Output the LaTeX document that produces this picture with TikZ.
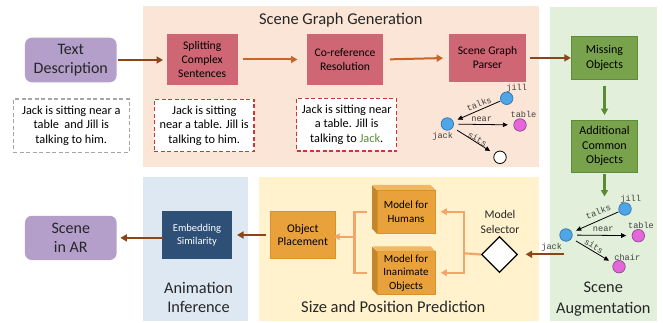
\documentclass[tikz,border=0pt]{standalone}
\usepackage{fontspec}
\setmainfont{Carlito}
\newfontfamily\gmono{Liberation Mono}
\usetikzlibrary{shapes.geometric,arrows.meta}
\definecolor{peachbg}{HTML}{FBE5D6}
\definecolor{greenbg}{HTML}{E2EFDA}
\definecolor{bluebg}{HTML}{DEE8F3}
\definecolor{yellowbg}{HTML}{FFF2CC}
\definecolor{purp}{HTML}{B49FCB}
\definecolor{redbox}{HTML}{CE6673}
\definecolor{reddash}{HTML}{D03535}
\definecolor{graydash}{HTML}{A6A6A6}
\definecolor{greenbox}{HTML}{78A24C}
\definecolor{greenedge}{HTML}{5E8C3A}
\definecolor{greenarr}{HTML}{5B8A35}
\definecolor{orangebox}{HTML}{E9A23B}
\definecolor{orangeleft}{HTML}{C4862C}
\definecolor{orangetop}{HTML}{F0B860}
\definecolor{orangeedge}{HTML}{D9912E}
\definecolor{oline}{HTML}{F4A46A}
\definecolor{darkblue}{HTML}{2E5077}
\definecolor{brownarr}{HTML}{8B4519}
\definecolor{orbrown}{HTML}{C8662A}
\definecolor{nodeblue}{HTML}{4FA6E6}
\definecolor{nodeblueedge}{HTML}{2F75B5}
\definecolor{nodemag}{HTML}{E466D8}
\definecolor{nodemagedge}{HTML}{8A4A90}
\definecolor{jackgreen}{HTML}{5A8C3C}
\definecolor{titlegray}{HTML}{262626}
\newcommand\fsz[2]{\fontsize{#1}{#2}\selectfont}
\begin{document}
\begin{tikzpicture}[x=1pt,y=-1pt,
  every node/.style={inner sep=0pt, align=center},
  purpbox/.style={fill=purp, rounded corners=7pt, text=titlegray, font=\fsz{16}{19.5}},
  exbox/.style={fill=white, line width=1.4pt, dash pattern=on 4pt off 2.5pt, font=\fsz{12.3}{14.6}},
  redstep/.style={fill=redbox, font=\fsz{11.6}{14.2}},
  greenstep/.style={fill=greenbox, draw=greenedge, line width=0.8pt, font=\fsz{12}{14.5}},
  cubefront/.style={fill=orangebox, draw=orangeedge, line width=0.5pt, font=\fsz{11}{13.6}},
  titletext/.style={text=titlegray, font=\fsz{16.5}{20}},
  brownarrow/.style={draw=brownarr, line width=2pt, -{Triangle[length=6.5pt,width=7pt]}},
  orarrow/.style={draw=orbrown, line width=2pt, -{Triangle[length=6.5pt,width=7pt]}},
  greenarrow/.style={draw=greenarr, line width=2.2pt, -{Triangle[length=6.5pt,width=7pt]}},
  oconn/.style={draw=oline, line width=2.2pt},
  oarrow/.style={draw=oline, line width=2.2pt, -{Triangle[length=6pt,width=6.5pt]}},
  gblue/.style={circle, fill=nodeblue, draw=nodeblueedge, line width=0.7pt, minimum size=12.5pt},
  gmag/.style={circle, fill=nodemag, draw=nodemagedge, line width=0.7pt, minimum size=12.5pt},
  gempty/.style={circle, fill=white, draw=black, line width=0.8pt, minimum size=12.5pt},
  glabel/.style={font=\gmono\fsz{8.6}{9}, text=black!75},
  garrow/.style={draw=black, line width=0.8pt, -{Triangle[length=5pt,width=4.5pt]}}
]
\useasboundingbox (0,0) rectangle (663,323);
% panels
\fill[peachbg] (143,6) rectangle (538.5,167);
\fill[greenbg] (550,7) rectangle (657,321);
\fill[bluebg] (143,177) rectangle (247.5,321);
\fill[yellowbg] (259,177) rectangle (539,321);
% titles
\node[titletext] (ttlsgg) at (340.8,20) {Scene Graph Generation};
\node[titletext] (ttlspp) at (393.3,307.3) {Size and Position Prediction};
\node[titletext, font=\fsz{16.3}{19}] (ttlai) at (198.5,297.8) {Animation\\Inference};
\node[titletext, font=\fsz{16.3}{21}] (ttlsa) at (603.3,299.5) {Scene\\Augmentation};
% top row
\node[purpbox, minimum width=91.7pt, minimum height=44.6pt] (txt) at (70.8,60) {Text\\Description};
\node[exbox, draw=graydash, minimum width=116pt, minimum height=53.3pt] (ex1) at (71.3,125.7) {Jack is sitting near a\\table~ and Jill is\\talking to him.};
\node[redstep, minimum width=71pt, minimum height=51pt] (split) at (202.2,59.5) {Splitting\\Complex\\Sentences};
\node[exbox, draw=reddash, minimum width=99.7pt, minimum height=52.4pt] (ex2) at (204.2,125.5) {Jack is sitting\\near a table. Jill is\\talking to him.};
\node[redstep, minimum width=76.6pt, minimum height=51pt] (coref) at (345,59.5) {Co-reference\\Resolution};
\node[exbox, draw=reddash, minimum width=100pt, minimum height=52.7pt] (ex3) at (346.7,124.7) {Jack is sitting near\\a table. Jill is\\talking to \textcolor{jackgreen}{Jack}.};
\node[redstep, minimum width=76.4pt, minimum height=47.7pt] (parser) at (487.5,57.9) {Scene Graph\\Parser};
\node[greenstep, minimum width=65.5pt, minimum height=42.3pt] (miss) at (604.5,57.9) {Missing\\Objects};
\node[greenstep, minimum width=65.4pt, minimum height=52.7pt] (addc) at (604.5,146.3) {Additional\\Common\\Objects};
\coordinate (augin) at (604.5,196.5);
% top arrows
\draw[brownarrow, shorten <=1.5pt, shorten >=3.5pt] (txt.east) -- (txt.east -| split.west);
\draw[orarrow, shorten <=5.5pt, shorten >=9pt] (split.east) -- (coref.west);
\draw[orarrow, shorten <=6.5pt, shorten >=6pt] (coref.east) -- (parser.west);
\draw[brownarrow, shorten <=4.3pt, shorten >=0.5pt] (parser.east) -- (parser.east -| miss.west);
\draw[greenarrow, shorten <=6.5pt, shorten >=4.5pt] (miss.south) -- (addc.north);
\draw[greenarrow, shorten <=1pt] (addc.south) -- (augin);
% scene graph 1
\node[gblue] (g1jill) at (506.7,98.3) {};
\node[gmag] (g1table) at (520,125) {};
\node[gblue] (g1jack) at (447.3,124) {};
\node[gempty] (g1obj) at (500,157.3) {};
\node[glabel] (g1jilll) at (516.7,88.3) {jill};
\node[glabel] (g1tablel) at (523.5,114.3) {table};
\node[glabel] (g1jackl) at (442.7,136.7) {jack};
\draw[garrow, shorten <=0.5pt, shorten >=4.5pt] (g1jill) -- (g1jack);
\draw[garrow, shorten <=4.5pt, shorten >=5.5pt] (g1jack) -- (g1table);
\draw[garrow, shorten <=5pt, shorten >=5pt] (g1jack) -- (g1obj);
\node[glabel, rotate=21] (g1talks) at (479,104) {talks};
\node[glabel] (g1near) at (481.7,119.3) {near};
\node[glabel, rotate=-31] (g1sits) at (477.5,138.8) {sits};
% scene graph 2
\node[gblue] (g2jill) at (625,209) {};
\node[gmag] (g2table) at (638.3,235.7) {};
\node[gblue] (g2jack) at (566,235) {};
\node[gmag] (g2chair) at (619,266.7) {};
\node[glabel] (g2jilll) at (630.7,199.3) {jill};
\node[glabel] (g2tablel) at (641,225) {table};
\node[glabel] (g2jackl) at (551.7,247.7) {jack};
\node[glabel] (g2chairl) at (627.3,257.7) {chair};
\draw[garrow, shorten <=0.5pt, shorten >=4.5pt] (g2jill) -- (g2jack);
\draw[garrow, shorten <=4.5pt, shorten >=5.5pt] (g2jack) -- (g2table);
\draw[garrow, shorten <=5pt, shorten >=5pt] (g2jack) -- (g2chair);
\node[glabel, rotate=20] (g2talks) at (598.3,211.7) {talks};
\node[glabel] (g2near) at (603.3,229.3) {near};
\node[glabel, rotate=-33] (g2sits) at (594,246.2) {sits};
\coordinate (augout) at (564,254.3);
% bottom row
\node[diamond, aspect=1, draw=black, fill=white, line width=1.3pt, minimum width=36pt, minimum height=36pt] (sel) at (499.5,254.5) {};
\node[font=\fsz{11.7}{15}, text=titlegray] (sellab) at (500,221.5) {Model\\Selector};
\draw[brownarrow, shorten >=7.5pt] (augout) -- (augout -| sel.east);
\node[cubefront, minimum width=58pt, minimum height=43.3pt] (hum) at (406,211.7) {Model for\\Humans};
\node[cubefront, minimum width=58pt, minimum height=42.5pt] (inan) at (406,272.75) {Model for\\Inanimate\\Objects};
\fill[orangeleft] (hum.north west) -- (hum.south west) -- ++(-4.7,-5) -- ++(0,-43.3) -- cycle;
\fill[orangetop] (hum.north west) -- (hum.north east) -- ++(-4.7,-5) -- ++(-58,0) -- cycle;
\fill[orangeleft] (inan.north west) -- (inan.south west) -- ++(-4.7,-5) -- ++(0,-42.5) -- cycle;
\fill[orangetop] (inan.north west) -- (inan.north east) -- ++(-4.7,-5) -- ++(-58,0) -- cycle;
\node[cubefront, font=\fsz{11.7}{13.4}, minimum width=64.3pt, minimum height=46.6pt] (op) at (302.8,235) {Object\\Placement};
\node[fill=darkblue, text=white, font=\fsz{10.5}{13.3}, minimum width=70.6pt, minimum height=48pt] (emb) at (197,235) {Embedding\\Similarity};
\node[purpbox, minimum width=91.7pt, minimum height=44.3pt] (ar) at (70.8,237.9) {Scene\\in AR};
% orange connectors
\coordinate (rj) at (464,253.3);
\coordinate (lj) at (354.5,236.7);
\draw[oconn] (sel.west) -- (rj);
\draw[oarrow, shorten >=5.5pt] (rj) |- (hum.east);
\draw[oarrow, shorten >=5.5pt] (rj) |- (inan.east);
\draw[oconn, shorten <=10pt] (hum.west) -| (lj);
\draw[oconn, shorten <=10pt] (inan.west) -| (lj);
\draw[oarrow, shorten >=-1.5pt] (lj) -- (lj -| op.east);
% bottom arrows
\draw[brownarrow, shorten <=4.5pt, shorten >=4.5pt] (op.west) -- (op.west -| emb.east);
\draw[brownarrow, shorten <=-1.5pt, shorten >=3.5pt] (emb.west |- ar.east) -- (ar.east);
\end{tikzpicture}
\end{document}
